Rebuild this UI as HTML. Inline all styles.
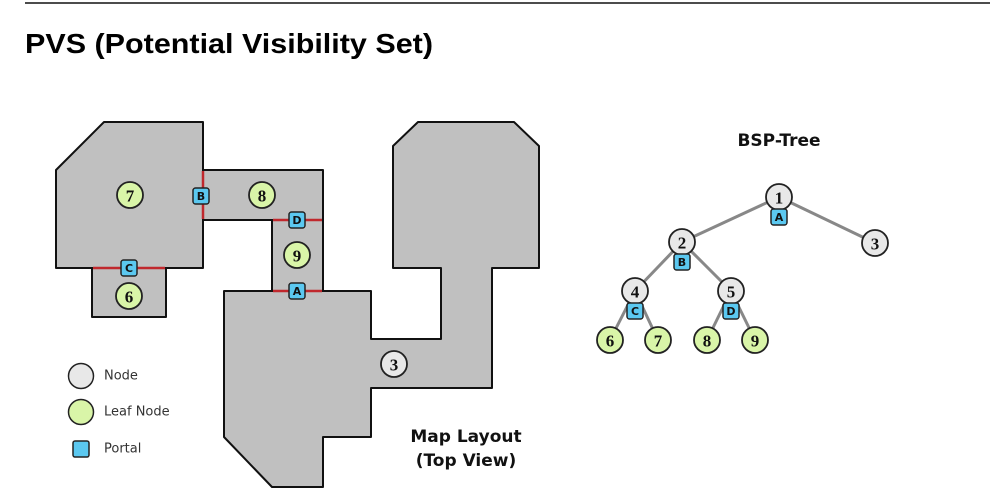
<!DOCTYPE html>
<html><head><meta charset="utf-8">
<style>
html,body{margin:0;padding:0;background:#fff;}
svg{display:block;}
.num{font-family:"Liberation Serif",serif;font-weight:bold;font-size:17px;text-anchor:middle;dominant-baseline:central;fill:#111;}
.pl{font-family:"DejaVu Sans","Liberation Sans",sans-serif;font-weight:bold;font-size:11px;text-anchor:middle;dominant-baseline:central;fill:#111;}
.lg{font-family:"DejaVu Sans","Liberation Sans",sans-serif;font-size:13px;fill:#333;dominant-baseline:central;}
.hd{font-family:"DejaVu Sans","Liberation Sans",sans-serif;font-weight:bold;font-size:17px;text-anchor:middle;fill:#111;}
</style></head>
<body>
<svg id="s" width="995" height="493" viewBox="0 0 995 493" xmlns="http://www.w3.org/2000/svg">
<line x1="25" y1="3" x2="990" y2="3" stroke="#111" stroke-width="1.5"/>
<text x="25" y="53" font-family="Liberation Sans, sans-serif" font-weight="bold" font-size="28" textLength="408" lengthAdjust="spacingAndGlyphs" fill="#000">PVS (Potential Visibility Set)</text>

<g fill="#c0c0c0" stroke="#111" stroke-width="2" stroke-linejoin="round">
<polygon points="56,170 104,122 203,122 203,268 56,268"/>
<polygon points="92,268 166,268 166,317 92,317"/>
<polygon points="203,170 323,170 323,220 203,220"/>
<polygon points="272,220 323,220 323,291 272,291"/>
<polygon points="224,291 371,291 371,339 441,339 441,268 393,268 393,146 418,122 514,122 539,146 539,268 492,268 492,388 371,388 371,437 323,437 323,487 272,487 224,437"/>
</g>
<g stroke="#c0282d" stroke-width="2.5">
<line x1="93" y1="268" x2="165" y2="268"/>
<line x1="203" y1="171" x2="203" y2="219"/>
<line x1="273" y1="220" x2="322" y2="220"/>
<line x1="273" y1="291" x2="322" y2="291"/>
</g>
<g id="mapmarks"></g>
<g id="tree"></g>

<g>
<circle cx="81" cy="376" r="12.5" fill="#e8e8e8" stroke="#222" stroke-width="1.5"/>
<text class="lg" x="104" y="376">Node</text>
<circle cx="81" cy="412" r="12.5" fill="#d9f5a8" stroke="#222" stroke-width="1.5"/>
<text class="lg" x="104" y="412">Leaf Node</text>
<rect x="73" y="441" width="16" height="16" rx="2" fill="#5bc8f0" stroke="#222" stroke-width="1.5"/>
<text class="lg" x="104" y="449">Portal</text>
</g>
<text class="hd" x="466" y="442">Map Layout</text>
<text class="hd" x="466" y="466">(Top View)</text>
<text class="hd" x="779" y="146">BSP-Tree</text>
</svg>
<script>
const NS='http://www.w3.org/2000/svg';
const mapNodes=[['7',130,195,'leaf'],['8',262,195,'leaf'],['9',297,255,'leaf'],['6',129,296,'leaf'],['3',394,364,'node']];
const mapPortals=[['B',201,196],['D',297,220],['C',129,268],['A',297,291]];
const treeNodes=[['1',779,197,'node'],['2',682,242,'node'],['3',875,243,'node'],['4',635,291,'node'],['5',731,291,'node'],['6',610,340,'leaf'],['7',658,340,'leaf'],['8',707,340,'leaf'],['9',755,340,'leaf']];
const treeEdges=[['1','2'],['1','3'],['2','4'],['2','5'],['4','6'],['4','7'],['5','8'],['5','9']];
const treePortals=[['A','1'],['B','2'],['C','4'],['D','5']];
function mk(tag,attrs,parent){const e=document.createElementNS(NS,tag);for(const k in attrs)e.setAttribute(k,attrs[k]);parent.appendChild(e);return e;}
function circleNode(g,n){
  const c=mk('circle',{cx:n[1],cy:n[2],r:13,fill:n[3]==='leaf'?'#d9f5a8':'#e8e8e8',stroke:'#222','stroke-width':1.8},g);
  
  
  const t=mk('text',{class:'num',x:n[1],y:n[2]+1},g);t.textContent=n[0];
  
  
}
function portal(g,p,x,y){
  const r=mk('rect',{x:x-8,y:y-8,width:16,height:16,rx:2.5,fill:'#5bc8f0',stroke:'#222','stroke-width':1.5},g);
  
  
  const t=mk('text',{class:'pl',x:x,y:y+0.5},g);t.textContent=p;
  
  
}
const mg=document.getElementById('mapmarks');
mapNodes.forEach(n=>circleNode(mg,n));
mapPortals.forEach(p=>portal(mg,p[0],p[1],p[2]));
const tg=document.getElementById('tree');
const byId={};treeNodes.forEach(n=>byId[n[0]]=n);
treeEdges.forEach(e=>{const a=byId[e[0]],b=byId[e[1]];
  const l=mk('line',{x1:a[1],y1:a[2],x2:b[1],y2:b[2],stroke:'#888','stroke-width':3},tg);
  
  });
treeNodes.forEach(n=>circleNode(tg,n));
treePortals.forEach(p=>{const n=byId[p[1]];portal(tg,p[0],n[1],n[2]+20);});
</script>
</body></html>
